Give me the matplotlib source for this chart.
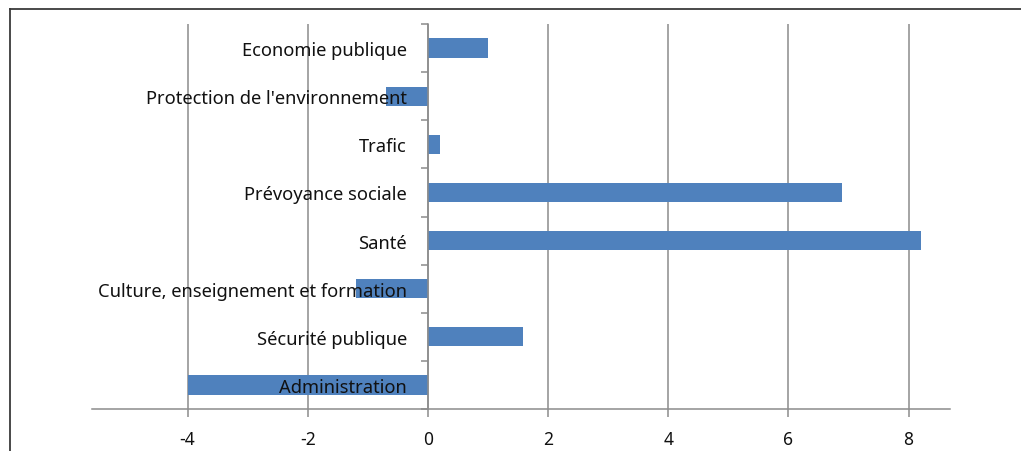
import matplotlib
matplotlib.use("Agg")
import matplotlib.pyplot as plt
from matplotlib.lines import Line2D
import numpy as np

categories = ["Administration", "Sécurité publique", "Culture, enseignement et formation",
              "Santé", "Prévoyance sociale", "Trafic", "Protection de l'environnement",
              "Economie publique"]
values = [-4.0, 1.58, -1.2, 8.2, 6.9, 0.2, -0.7, 1.0]
xticks = [-4, -2, 0, 2, 4, 6, 8]

W, H = 1021, 452
fig = plt.figure(figsize=(W / 100, H / 100), dpi=100)
fig.patch.set_facecolor("white")

# outer frame
fig.add_artist(Line2D([10 / W, 1.0], [1 - 10 / H, 1 - 10 / H], transform=fig.transFigure,
                      color="#3a3a3a", lw=1.3))
fig.add_artist(Line2D([10 / W, 10 / W], [0, 1 - 10 / H], transform=fig.transFigure,
                      color="#3a3a3a", lw=1.3))

ax = fig.add_axes([92 / W, (H - 410) / H, (950 - 92) / W, (410 - 25) / H])
ax.set_facecolor("none")

y = np.arange(len(categories))
ax.barh(y, values, height=0.4, color="#4F81BD", zorder=1)

ax.set_xlim(-5.59, 8.69)
ax.set_ylim(-0.5, len(categories) - 0.5)

for xt in xticks:
    ax.axvline(xt, color="#8c8c8c", lw=1.1, zorder=0)

for s in ["top", "right"]:
    ax.spines[s].set_visible(False)
ax.spines["left"].set_position(("data", 0))
ax.spines["left"].set_color("#8c8c8c")
ax.spines["bottom"].set_color("#8c8c8c")
ax.spines["left"].set_linewidth(1.1)
ax.spines["bottom"].set_linewidth(1.1)

ax.set_xticks(xticks)
ax.set_xticklabels([str(v) for v in xticks])
ax.tick_params(axis="x", length=6, width=1.1, color="#8c8c8c", pad=9,
               labelsize=12.5, labelcolor="#111111")

ax.set_yticks(y)
ax.set_yticklabels(categories)
ax.set_yticks(np.arange(-0.5, len(categories), 1.0), minor=True)
ax.tick_params(axis="y", which="major", length=0, pad=15, labelsize=13.2, labelcolor="#111111")
ax.tick_params(axis="y", which="minor", length=5, width=1.1, color="#8c8c8c")

for lab in ax.get_xticklabels() + ax.get_yticklabels():
    lab.set_fontfamily("Noto Sans")

fig.savefig("out.png", dpi=100)
